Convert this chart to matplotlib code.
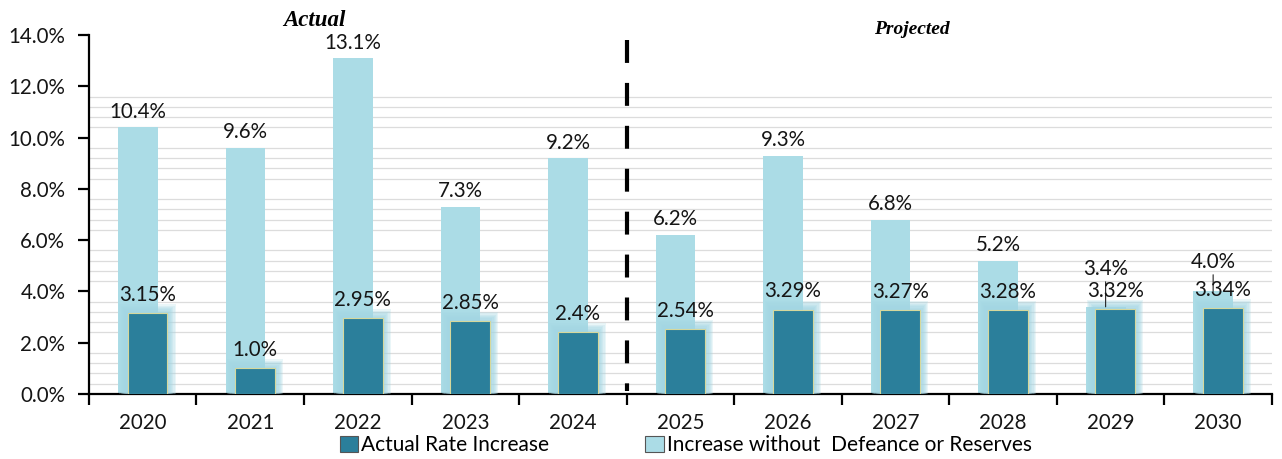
import numpy as np
import matplotlib.pyplot as plt
from matplotlib.ticker import FixedLocator, PercentFormatter

years = ["2020", "2021", "2022", "2023", "2024", "2025", "2026", "2027", "2028", "2029", "2030"]
actual_rate = [3.15, 1.0, 2.95, 2.85, 2.4, 2.54, 3.29, 3.27, 3.28, 3.32, 3.34]
without_defeance = [10.4, 9.6, 13.1, 7.3, 9.2, 6.2, 9.3, 6.8, 5.2, 3.4, 4.0]
actual_labels = ["3.15%", "1.0%", "2.95%", "2.85%", "2.4%", "2.54%", "3.29%", "3.27%", "3.28%", "3.32%", "3.34%"]
without_labels = ["10.4%", "9.6%", "13.1%", "7.3%", "9.2%", "6.2%", "9.3%", "6.8%", "5.2%", "3.4%", "4.0%"]

DARK = "#2b7f9b"
LIGHT = "#abdce6"
GLOW = "#a3d6e3"
TXT = "#151515"
FONT = "Lato"
FS = 14.8

fig = plt.figure(figsize=(12.82, 4.59), dpi=100)
ax = fig.add_axes([0.0694, 0.1416, 0.9226, 0.7821])

x = np.arange(len(years))
w = 0.37
shift = 0.045

# faint minor grid, skipping the 2% marks
grid_vals = [v for v in np.arange(0.4, 11.7, 0.4) if abs(v / 2 - round(v / 2)) > 0.01]
for g in grid_vals:
    ax.axhline(g, color="#dcdcdc", lw=0.9, zorder=0)

ax.bar(x - shift, without_defeance, width=w, color=LIGHT, zorder=2)

# soft halo round the dark bars
for k in range(1, 8):
    ax.bar(x + shift, np.array(actual_rate) + 0.05 * k, width=w + 0.022 * k,
           color=GLOW, alpha=0.22, lw=0, zorder=3)
ax.bar(x + shift, actual_rate, width=w, color=DARK, edgecolor="#d6d89c",
       linewidth=0.8, zorder=4)

# value labels
for i, (v, lab) in enumerate(zip(without_defeance, without_labels)):
    if years[i] in ("2029", "2030"):
        off = 20 if years[i] == "2029" else 14
        ax.annotate(lab, (x[i] - shift, v), xytext=(0, off), textcoords="offset points",
                    ha="center", va="bottom", fontsize=FS, family=FONT, color=TXT,
                    arrowprops=dict(arrowstyle="-", color="#222222", lw=0.8,
                                    shrinkA=0, shrinkB=0), zorder=6)
    else:
        ax.annotate(lab, (x[i] - shift, v), xytext=(0, 4), textcoords="offset points",
                    ha="center", va="bottom", fontsize=FS, family=FONT, color=TXT, zorder=6)
for i, (v, lab) in enumerate(zip(actual_rate, actual_labels)):
    ax.annotate(lab, (x[i] + shift, v), xytext=(0, 6), textcoords="offset points",
                ha="center", va="bottom", fontsize=FS, family=FONT, color=TXT, zorder=6)

# split between actual and projected years
ax.plot([4.5, 4.5], [13.8, 0.1], color="black", lw=3, dashes=(5.5, 4.8), zorder=5,
        dash_capstyle="butt")
ax.text(1.6, 14.55, "Actual", ha="center", va="center", fontsize=16.5,
        family="Liberation Serif", weight="bold", style="italic")
ax.text(7.15, 14.2, "Projected", ha="center", va="center", fontsize=14,
        family="Liberation Serif", weight="bold", style="italic")

ax.set_xlim(-0.5, 10.5)
ax.set_ylim(0, 14)
ax.set_yticks(np.arange(0, 14.1, 2))
ax.yaxis.set_major_formatter(PercentFormatter(decimals=1))
ax.set_xticks(x)
ax.set_xticklabels(years)
ax.xaxis.set_minor_locator(FixedLocator(np.arange(-0.5, 10.6, 1)))
ax.tick_params(axis="x", which="major", length=0, pad=14)
ax.tick_params(axis="x", which="minor", length=8, width=1.6, direction="out", color="black")
ax.tick_params(axis="y", length=8, width=1.6, pad=9)
for lab in ax.get_xticklabels() + ax.get_yticklabels():
    lab.set_family(FONT)
    lab.set_fontsize(FS)
    lab.set_color(TXT)

for s in ("top", "right"):
    ax.spines[s].set_visible(False)
for s in ("left", "bottom"):
    ax.spines[s].set_linewidth(1.6)
ax.set_axisbelow(True)
ax.patch.set_alpha(0)

h1 = plt.Rectangle((0, 0), 1, 1, facecolor=DARK, edgecolor="#555555", lw=0.8)
h2 = plt.Rectangle((0, 0), 1, 1, facecolor=LIGHT, edgecolor="#555555", lw=0.8)
fig.legend([h1, h2], ["Actual Rate Increase", "Increase without  Defeance or Reserves"],
           loc="center", bbox_to_anchor=(0.535, 0.03), ncol=2, frameon=False,
           prop={"family": FONT, "size": 15}, handlelength=0.9,
           handleheight=0.8, handletextpad=0.15, columnspacing=4.6, borderaxespad=0)

fig.savefig("out.png", dpi=100)
